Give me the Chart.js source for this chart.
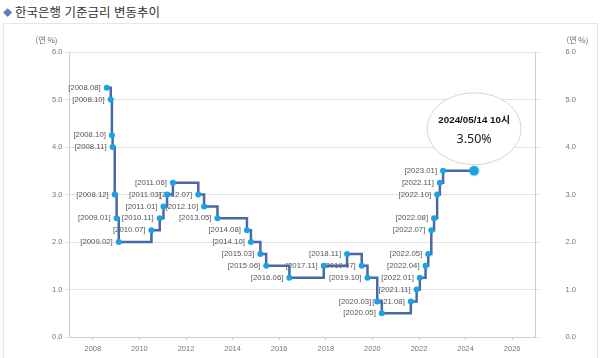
<!DOCTYPE html>
<html lang="ko">
<head>
<meta charset="utf-8">
<title>한국은행 기준금리 변동추이</title>
<script src="https://cdn.jsdelivr.net/npm/chart.js@4.4.1/dist/chart.umd.min.js"></script>
<style>
  html, body { margin: 0; padding: 0; background: #fff; width: 600px; height: 358px; overflow: hidden; }
  .title { position: absolute; left: 3px; top: 2px; font: 12.5px "Noto Sans CJK KR", sans-serif; color: #333; white-space: nowrap; }
  .title .dia { color: #5b7ec2; font-size: 9px; margin-right: 3px; position: relative; top: -1px; }
  .frame { position: absolute; left: 3px; top: 23px; width: 593px; height: 345px; border: 1px solid #e6e6e6; }
  #wrap { position: absolute; left: 0; top: 0; width: 600px; height: 358px; }
</style>
</head>
<body>
<div class="title"><span class="dia">◆</span>한국은행 기준금리 변동추이</div>
<div class="frame"></div>
<div id="wrap"><canvas id="rateChart" width="600" height="358"></canvas></div>
<script>
// 기준금리 변경일과 금리 (마지막 값은 현재 시점)
const changeDates = [
  '2008-08-07', '2008-10-09', '2008-10-27', '2008-11-07', '2008-12-11', '2009-01-09', '2009-02-12',
  '2010-07-09', '2010-11-16', '2011-01-13', '2011-03-10', '2011-06-10', '2012-07-12', '2012-10-11',
  '2013-05-09', '2014-08-14', '2014-10-15', '2015-03-12', '2015-06-11', '2016-06-09', '2017-11-30',
  '2018-11-30', '2019-07-18', '2019-10-16', '2020-03-17', '2020-05-28', '2021-08-26', '2021-11-25',
  '2022-01-14', '2022-04-14', '2022-05-26', '2022-07-13', '2022-08-25', '2022-10-12', '2022-11-24',
  '2023-01-13', '2024-05-14'
];
const baseRates = [
  5.25, 5.00, 4.25, 4.00, 3.00, 2.50, 2.00,
  2.25, 2.50, 2.75, 3.00, 3.25, 3.00, 2.75,
  2.50, 2.25, 2.00, 1.75, 1.50, 1.25, 1.50,
  1.75, 1.50, 1.25, 0.75, 0.50, 0.75, 1.00,
  1.25, 1.50, 1.75, 2.25, 2.50, 3.00, 3.25,
  3.50, 3.50
];
const yearTicks = [2008, 2010, 2012, 2014, 2016, 2018, 2020, 2022, 2024, 2026];
const rateTicks = [0, 1, 2, 3, 4, 5, 6];
const axisTitle = '(연 %)';
const nowStamp = '2024/05/14 10시';
const nowRate = '3.50%';

// 날짜 -> 소수 연도
function toYear(s) {
  const [y, m, d] = s.split('-').map(Number);
  const start = Date.UTC(y, 0, 1), end = Date.UTC(y + 1, 0, 1);
  return y + (Date.UTC(y, m - 1, d) - start) / (end - start);
}
const pointLabel = s => '[' + s.slice(0, 7).replace('-', '.') + ']';

const last = changeDates.length - 1;
const tickFont = { family: 'Liberation Sans', size: 7.5 };

// y축 폭 고정 + 라벨 여백이 세로 배치에 끼어들지 않게
const fixWidth = w => s => { s.width = w; s.paddingTop = 4; s.paddingBottom = 4; };

const pointLabels = {
  id: 'pointLabels',
  beforeDatasetsDraw(chart) {
    const ctx = chart.ctx;
    const pts = chart.getDatasetMeta(0).data;
    ctx.save();
    ctx.font = '7.8px "Liberation Sans"';
    ctx.fillStyle = '#555';
    ctx.textAlign = 'right';
    ctx.textBaseline = 'middle';
    pts.forEach((p, i) => {
      if (i === last) return;
      ctx.fillText(pointLabel(changeDates[i]), p.x - 6, p.y);
    });
    ctx.restore();
  }
};

const extras = {
  id: 'extras',
  afterDraw(chart) {
    const ctx = chart.ctx, a = chart.chartArea;
    ctx.save();
    // axis titles
    ctx.font = '8px "Noto Sans CJK KR"';
    ctx.fillStyle = '#666';
    ctx.textBaseline = 'middle';
    ctx.textAlign = 'right';
    ctx.fillText(axisTitle, a.left - 12, a.top - 12);
    ctx.textAlign = 'left';
    ctx.fillText(axisTitle, a.right + 31, a.top - 12);

    // current rate bubble
    const p = chart.getDatasetMeta(0).data[last];
    const cy = p.y - 42;
    ctx.beginPath();
    ctx.ellipse(p.x, cy, 47, 36, 0, 0, Math.PI * 2);
    ctx.fillStyle = '#fff';
    ctx.fill();
    ctx.lineWidth = 1;
    ctx.strokeStyle = '#d6d6d6';
    ctx.stroke();
    ctx.textAlign = 'center';
    ctx.fillStyle = '#111';
    ctx.font = 'bold 9.8px "Liberation Sans", "Noto Sans CJK KR"';
    ctx.fillText(nowStamp, p.x, cy - 8);
    ctx.fillStyle = '#222';
    ctx.font = '12.5px "Noto Sans"';
    ctx.fillText(nowRate, p.x, cy + 11);
    ctx.restore();
  }
};

new Chart(document.getElementById('rateChart'), {
  type: 'line',
  data: {
    datasets: [{
      data: changeDates.map((d, i) => ({ x: toYear(d), y: baseRates[i] })),
      stepped: 'before',
      borderColor: '#4a67a8',
      borderWidth: 2.5,
      pointRadius: changeDates.map((d, i) => i === last ? 4.5 : 3),
      pointBackgroundColor: '#1aa2e3',
      pointBorderColor: changeDates.map((d, i) => i === last ? 'rgba(26,162,227,.45)' : '#1aa2e3'),
      pointBorderWidth: changeDates.map((d, i) => i === last ? 2 : 0),
      fill: false
    }]
  },
  options: {
    responsive: false,
    animation: false,
    layout: { padding: { top: 52, right: 0, bottom: 0, left: 0 } },
    plugins: { legend: { display: false }, tooltip: { enabled: false } },
    scales: {
      x: {
        type: 'linear', min: 2007, max: 2027,
        afterBuildTicks: s => { s.ticks = yearTicks.map(v => ({ value: v })); },
        afterFit: s => { s.height = 21; },
        grid: { drawOnChartArea: false, tickLength: 3, color: '#ccc' },
        border: { color: '#ccc' },
        ticks: { font: tickFont, color: '#777', padding: 4, maxRotation: 0, autoSkip: false, callback: v => String(v) }
      },
      y: {
        position: 'left', min: 0, max: 6,
        afterBuildTicks: s => { s.ticks = rateTicks.map(v => ({ value: v })); },
        afterFit: fixWidth(69.5),
        grid: { color: '#e3e3e3', tickLength: 4 },
        border: { color: '#ccc' },
        ticks: { font: tickFont, color: '#777', padding: 3, autoSkip: false, callback: v => v.toFixed(1) }
      },
      y2: {
        position: 'right', min: 0, max: 6,
        afterBuildTicks: s => { s.ticks = rateTicks.map(v => ({ value: v })); },
        afterFit: fixWidth(64.5),
        grid: { drawOnChartArea: false, color: '#e3e3e3', tickLength: 4 },
        border: { color: '#ccc' },
        ticks: { font: tickFont, color: '#777', padding: 26, autoSkip: false, callback: v => v.toFixed(1) }
      }
    }
  },
  plugins: [pointLabels, extras]
});
</script>
</body>
</html>
